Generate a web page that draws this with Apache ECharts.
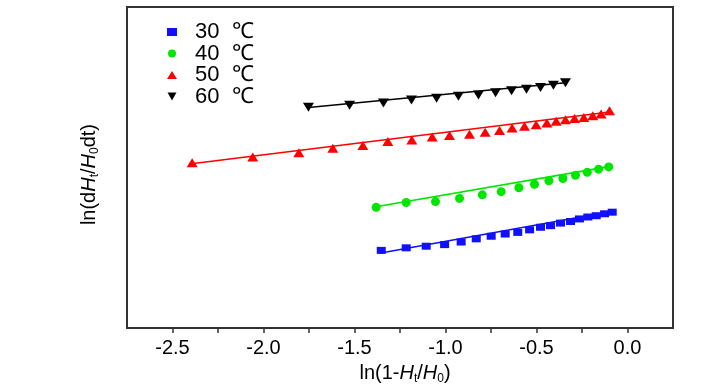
<!DOCTYPE html>
<html><head><meta charset="utf-8">
<script src="https://cdn.jsdelivr.net/npm/echarts@6/dist/echarts.min.js"></script>
<style>html,body{margin:0;padding:0;background:#fff}#c{width:728px;height:390px}</style>
</head><body><div id="c"></div>
<script>
const seriesNames = ['30 ℃', '40 ℃', '50 ℃', '60 ℃'];
const colors = ['#1010ff', '#00e600', '#ff0000', '#000000'];
const symbols = ['rect', 'circle', 'triangle', 'path://M0,0 L10,0 L5,9 Z'];

// x = ln(1-Ht/H0), y = ln(dHt/H0dt) (relative units, axis unlabeled)
const x30 = [-1.353,-1.216,-1.106,-1.005,-0.914,-0.831,-0.749,-0.672,-0.603,-0.538,-0.478,-0.423,-0.368,-0.313,-0.264,-0.218,-0.172,-0.126,-0.084];
const y30 = [2.42,2.50,2.55,2.60,2.68,2.78,2.86,2.93,2.98,3.06,3.14,3.19,3.27,3.32,3.40,3.46,3.50,3.56,3.61];
const x40 = [-1.381,-1.216,-1.055,-0.923,-0.798,-0.694,-0.597,-0.511,-0.432,-0.355,-0.286,-0.221,-0.159,-0.103];
const y40 = [3.76,3.91,3.94,4.04,4.15,4.25,4.37,4.48,4.59,4.66,4.76,4.85,4.95,5.02];
const x50 = [-2.392,-2.059,-1.806,-1.619,-1.454,-1.317,-1.185,-1.073,-0.978,-0.868,-0.782,-0.703,-0.634,-0.566,-0.502,-0.443,-0.392,-0.341,-0.291,-0.240,-0.191,-0.145,-0.099];
const y50 = [5.15,5.33,5.46,5.60,5.69,5.81,5.86,5.95,6.00,6.04,6.10,6.15,6.23,6.29,6.33,6.39,6.44,6.49,6.53,6.56,6.61,6.67,6.77];
const x60 = [-1.753,-1.527,-1.341,-1.187,-1.049,-0.929,-0.819,-0.725,-0.637,-0.555,-0.478,-0.407,-0.341];
const y60 = [6.88,6.94,7.01,7.10,7.16,7.22,7.26,7.33,7.39,7.44,7.49,7.56,7.64];

// linear fit end points [x0, x1], [y0, y1]
const fitX30 = [-1.363, -0.082], fitY30 = [2.33, 3.64];
const fitX40 = [-1.390, -0.104], fitY40 = [3.77, 5.03];
const fitX50 = [-2.407, -0.099], fitY50 = [5.11, 6.73];
const fitX60 = [-1.753, -0.341], fitY60 = [6.87, 7.64];

const xTicks = [-2.5, -2.0, -1.5, -1.0, -0.5, 0.0];

const xs = [x30, x40, x50, x60], ys = [y30, y40, y50, y60];
const fxs = [fitX30, fitX40, fitX50, fitX60], fys = [fitY30, fitY40, fitY50, fitY60];
const zip = (a, b) => a.map((v, i) => [v, b[i]]);
const symSizes = [[9, 7], 9, [11, 9], [11, 9]];

const series = [];
for (let i = 0; i < 4; i++) {
  series.push({
    name: seriesNames[i], type: 'line', data: zip(fxs[i], fys[i]),
    showSymbol: false, symbol: 'none', lineStyle: { color: colors[i], width: 1.6 },
    itemStyle: { color: colors[i] }, z: 2, silent: true, legendHoverLink: false
  });
}
for (let i = 0; i < 4; i++) {
  series.push({
    name: seriesNames[i], type: 'scatter', data: zip(xs[i], ys[i]),
    symbol: symbols[i], symbolSize: symSizes[i],
    itemStyle: { color: colors[i], opacity: 1 }, z: 3
  });
}

const chart = echarts.init(document.getElementById('c'), null, { renderer: 'canvas' });
const FONT = '"Liberation Sans", Arial, sans-serif';
chart.setOption({
  animation: false,
  backgroundColor: '#fff',
  grid: { left: 127, right: 55, top: 7, bottom: 59, show: true, borderColor: '#333', borderWidth: 2 },
  legend: {
    data: seriesNames.map((n, i) => ({ name: n, icon: symbols[i] })),
    orient: 'vertical', left: 162, top: 16, itemWidth: 10, itemHeight: 8, itemGap: -0.5,
    formatter: n => n.replace(' ', '  '),
    textStyle: { fontFamily: FONT, fontSize: 22, color: '#000', lineHeight: 20, padding: [0, 0, 0, 13] },
    selectedMode: false
  },
  xAxis: {
    type: 'value', min: -2.75, max: 0.25, interval: 0.25,
    axisLine: { show: true, onZero: false, lineStyle: { color: '#333', width: 2 } },
    axisTick: { show: true, inside: false, length: 5, lineStyle: { color: '#333', width: 1.5 } },
    axisLabel: {
      show: true, margin: 10, fontFamily: FONT, fontSize: 20, color: '#000',
      showMinLabel: false, showMaxLabel: false,
      formatter: v => {
        const m = xTicks.find(t => Math.abs(t - v) < 1e-6);
        return m === undefined ? '' : m.toFixed(1);
      }
    },
    splitLine: { show: false },
    name: '{n|ln(1-}{i|H}{s|t}{n|/}{i|H}{s|0}{n|)}',
    nameLocation: 'middle', nameGap: 31,
    nameTextStyle: {
      padding: [0, 0, 0, 10],
      rich: {
        n: { fontFamily: FONT, fontSize: 20, color: '#000' },
        i: { fontFamily: FONT, fontSize: 20, fontStyle: 'italic', color: '#000' },
        s: { fontFamily: FONT, fontSize: 12, color: '#000', padding: [12, 0, 0, 0] }
      }
    }
  },
  yAxis: {
    type: 'value', min: 0, max: 10,
    axisLine: { show: true, onZero: false, lineStyle: { color: '#333', width: 2 } },
    axisTick: { show: false }, axisLabel: { show: false }, splitLine: { show: false },
    name: '{n|ln(d}{i|H}{s|t}{n|/}{i|H}{s|0}{n|dt)}',
    nameLocation: 'middle', nameGap: 26, nameRotate: 90,
    nameTextStyle: {
      padding: [0, 14, 0, 0],
      rich: {
        n: { fontFamily: FONT, fontSize: 20, color: '#000' },
        i: { fontFamily: FONT, fontSize: 20, fontStyle: 'italic', color: '#000' },
        s: { fontFamily: FONT, fontSize: 12, color: '#000', padding: [12, 0, 0, 0] }
      }
    }
  },
  series: series
});
</script></body></html>
